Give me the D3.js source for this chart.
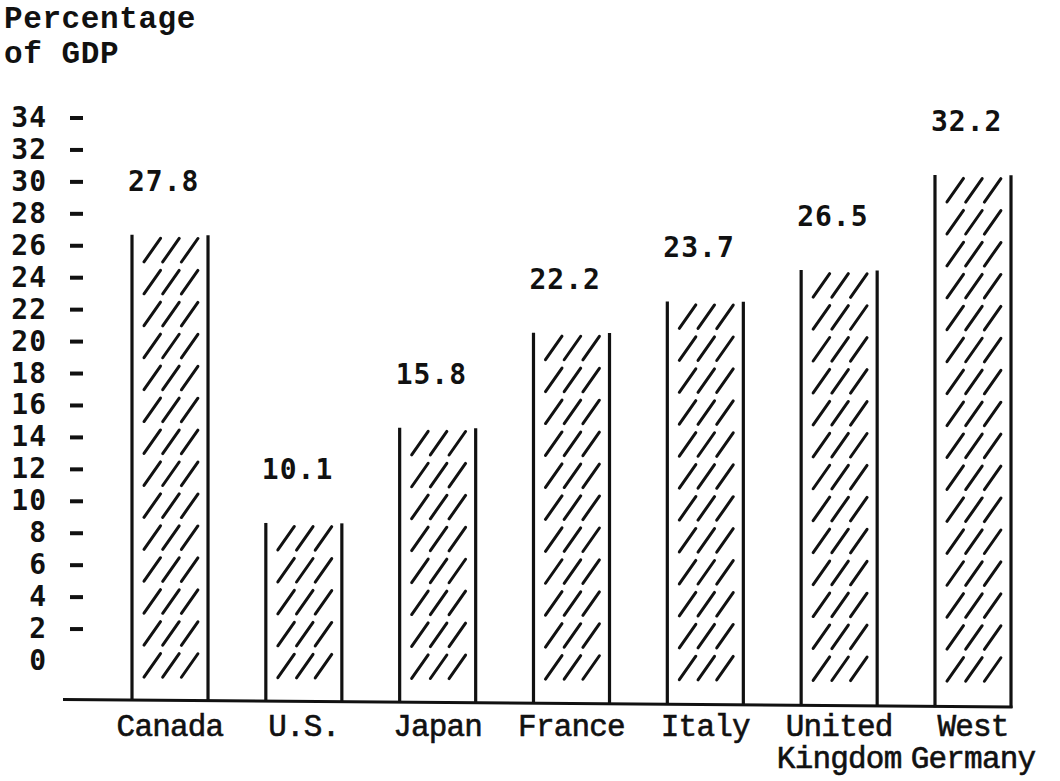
<!DOCTYPE html>
<html><head><meta charset="utf-8">
<script src="https://cdn.jsdelivr.net/npm/d3@7"></script>
<style>
html,body{margin:0;padding:0;background:#fff;}
svg{display:block;}
</style></head>
<body>
<svg id="chart" width="1060" height="781"></svg>
<script>
// ---- data ----
const titleLines = ["Percentage", "of GDP"];
const categories = ["Canada", "U.S.", "Japan", "France", "Italy", "United Kingdom", "West Germany"];
const values = [27.8, 10.1, 15.8, 22.2, 23.7, 26.5, 32.2];
const yTicks = [0, 2, 4, 6, 8, 10, 12, 14, 16, 18, 20, 22, 24, 26, 28, 30, 32, 34];
const rowUnit = 2; // each typed hatch row stands for 2 percentage points

// ---- setup ----
const svg = d3.select("#chart");
const ink = "#111";
const serif = "'Liberation Mono', 'Courier New', monospace";
const sans = "'DejaVu Sans Mono', monospace";

const x = d3.scaleBand().domain(categories).range([132, 1011]).paddingInner(0.432).paddingOuter(0);
const y = d3.scaleLinear().domain([0, 34]).range([670, 127]);
const bw = x.bandwidth();
const baseY = y(0) + 29;
// the typed sheet is slightly skewed: marks drift down toward the right
const tilt = xx => (xx - 132) * 0.005;
const baseAt = xx => baseY + (xx - 132) * 0.009;

// title
svg.append("g").selectAll("text").data(titleLines).join("text")
  .attr("x", 4).attr("y", (d, i) => 28 + i * 35)
  .attr("font-family", serif).attr("font-weight", "bold").attr("font-size", 31)
  .attr("letter-spacing", 0.6).attr("fill", ink)
  .text(d => d);

// axis labels and dash ticks
const axis = svg.append("g");
axis.selectAll("text").data(yTicks).join("text")
  .attr("x", 47).attr("y", d => y(d))
  .attr("text-anchor", "end")
  .attr("font-family", sans).attr("font-weight", "bold").attr("font-size", 28)
  .attr("letter-spacing", 1).attr("fill", ink)
  .text(d => d);
axis.selectAll("line").data(yTicks.filter(d => d > 0)).join("line")
  .attr("x1", 70).attr("x2", 83)
  .attr("y1", d => y(d) - 9).attr("y2", d => y(d) - 9)
  .attr("stroke", ink).attr("stroke-width", 4);

const body = svg.append("g");
const data = categories.map((c, i) => ({ c, v: values[i], rows: Math.round(values[i] / rowUnit) }));

body.selectAll("g.bar").data(data).join("g").attr("class", "bar").each(function (d) {
  const g = d3.select(this);
  const top = y(d.rows * rowUnit) + 12;
  [x(d.c), x(d.c) + bw].forEach(xx => {
    g.append("line").attr("x1", xx).attr("x2", xx)
      .attr("y1", top + tilt(xx)).attr("y2", baseAt(xx) + 1)
      .attr("stroke", ink).attr("stroke-width", 3.2);
  });
  // typed "///" hatching
  for (let k = 0; k < d.rows; k++) {
    for (let j = 0; j < 3; j++) {
      const x1 = x(d.c) + 12 + j * 18.7;
      const yb = y(k * rowUnit) + 7 + tilt(x1);
      g.append("line").attr("x1", x1).attr("y1", yb).attr("x2", x1 + 16.5).attr("y2", yb - 23.5)
        .attr("stroke", ink).attr("stroke-width", 3).attr("stroke-linecap", "round");
    }
  }
  // value label
  const lx = x(d.c) - 4;
  g.append("text").attr("x", lx).attr("y", y(d.rows * rowUnit + rowUnit) + tilt(lx))
    .attr("font-family", sans).attr("font-weight", "bold").attr("font-size", 28)
    .attr("letter-spacing", 1).attr("fill", ink)
    .text(d3.format(".1f")(d.v));
});

// baseline
const bx0 = 63, bx1 = x(categories[categories.length - 1]) + bw + 1.5;
body.append("line").attr("x1", bx0).attr("x2", bx1)
  .attr("y1", baseAt(bx0) + 1).attr("y2", baseAt(bx1))
  .attr("stroke", ink).attr("stroke-width", 3);

// category labels
const cats = svg.append("g");
data.forEach(d => {
  d.c.split(" ").forEach((ln, i) => {
    cats.append("text").attr("x", x(d.c) + bw / 2).attr("y", 736 + i * 32)
      .attr("text-anchor", "middle")
      .attr("font-family", serif).attr("font-size", 31).attr("letter-spacing", -0.8)
      .attr("fill", ink).attr("stroke", ink).attr("stroke-width", 0.6)
      .text(ln);
  });
});
</script>
</body></html>
